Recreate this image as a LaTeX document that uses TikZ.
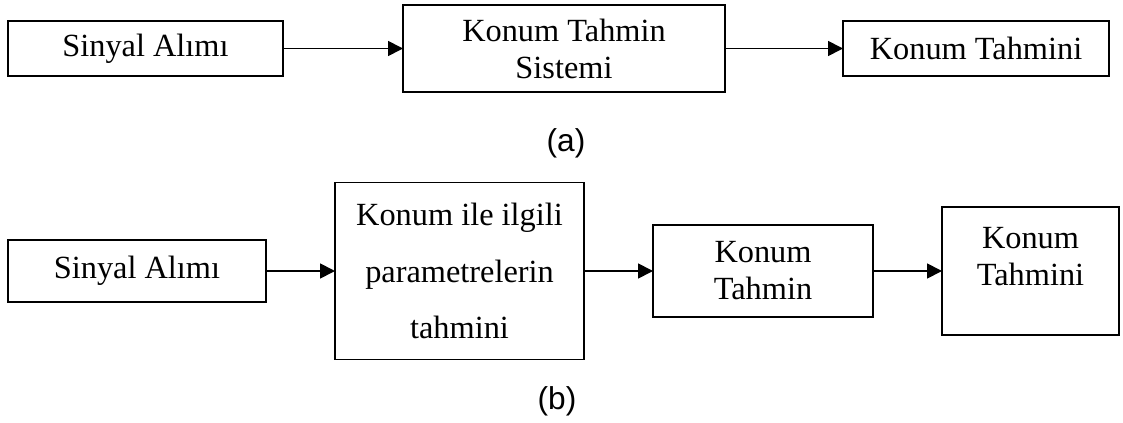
\documentclass[tikz,border=0pt]{standalone}
\usepackage{fontspec}
\setmainfont{Liberation Serif}
\newfontfamily\capfont{Liberation Sans}
\usepackage{tikz}
\usetikzlibrary{arrows.meta, positioning}
\tikzset{
  block/.style={rectangle, draw=black, line width=1pt, align=center,
    inner sep=0pt, outer sep=0pt, font=\fontsize{18.4}{21}\selectfont},
  blocktext/.style={align=center, inner sep=0pt, font=\fontsize{18.4}{21}\selectfont},
  caption/.style={font=\capfont\fontsize{18}{21}\selectfont},
  arrow/.style={-{Triangle[length=8.5pt, width=8.5pt]}, line width=1pt}
}

\begin{document}
\begin{tikzpicture}
  \useasboundingbox (0,0) rectangle (22.46,-8.46);

  % (a) Genel yapi
  \node[block, minimum width=5.5cm, minimum height=1.1cm] (a_in) at (2.91,-0.97) {Sinyal Alımı};
  \node[block, minimum width=6.44cm, minimum height=1.74cm, right=2.4cm of a_in] (a_sys) {Konum Tahmin\\Sistemi};
  \node[block, minimum width=5.32cm, minimum height=1.1cm, right=2.36cm of a_sys] (a_out) {Konum Tahmini};
  \draw[arrow] (a_in) -- (a_sys);
  \draw[arrow] (a_sys) -- (a_out);
  \node[caption] (a_cap) at (11.32,-2.86) {(a)};

  % (b) Iki asamali yapi
  \node[block, minimum width=5.16cm, minimum height=1.24cm] (b_in) at (2.74,-5.42) {Sinyal Alımı};
  \node[block, minimum width=4.98cm, minimum height=3.54cm, right=1.38cm of b_in] (b_par) {Konum ile ilgili\\[11pt]parametrelerin\\[11pt]tahmini};
  \node[block, minimum width=4.4cm, minimum height=1.84cm, right=1.38cm of b_par] (b_est) {Konum\\Tahmin};
  \node[block, minimum width=3.54cm, minimum height=2.56cm, right=1.38cm of b_est,
    label={[blocktext, yshift=0.29cm]center:{Konum\\Tahmini}}] (b_out) {};
  \draw[arrow] (b_in) -- (b_par);
  \draw[arrow] (b_par) -- (b_est);
  \draw[arrow] (b_est) -- (b_out);
  \node[caption] (b_cap) at (11.14,-8.02) {(b)};
\end{tikzpicture}
\end{document}
